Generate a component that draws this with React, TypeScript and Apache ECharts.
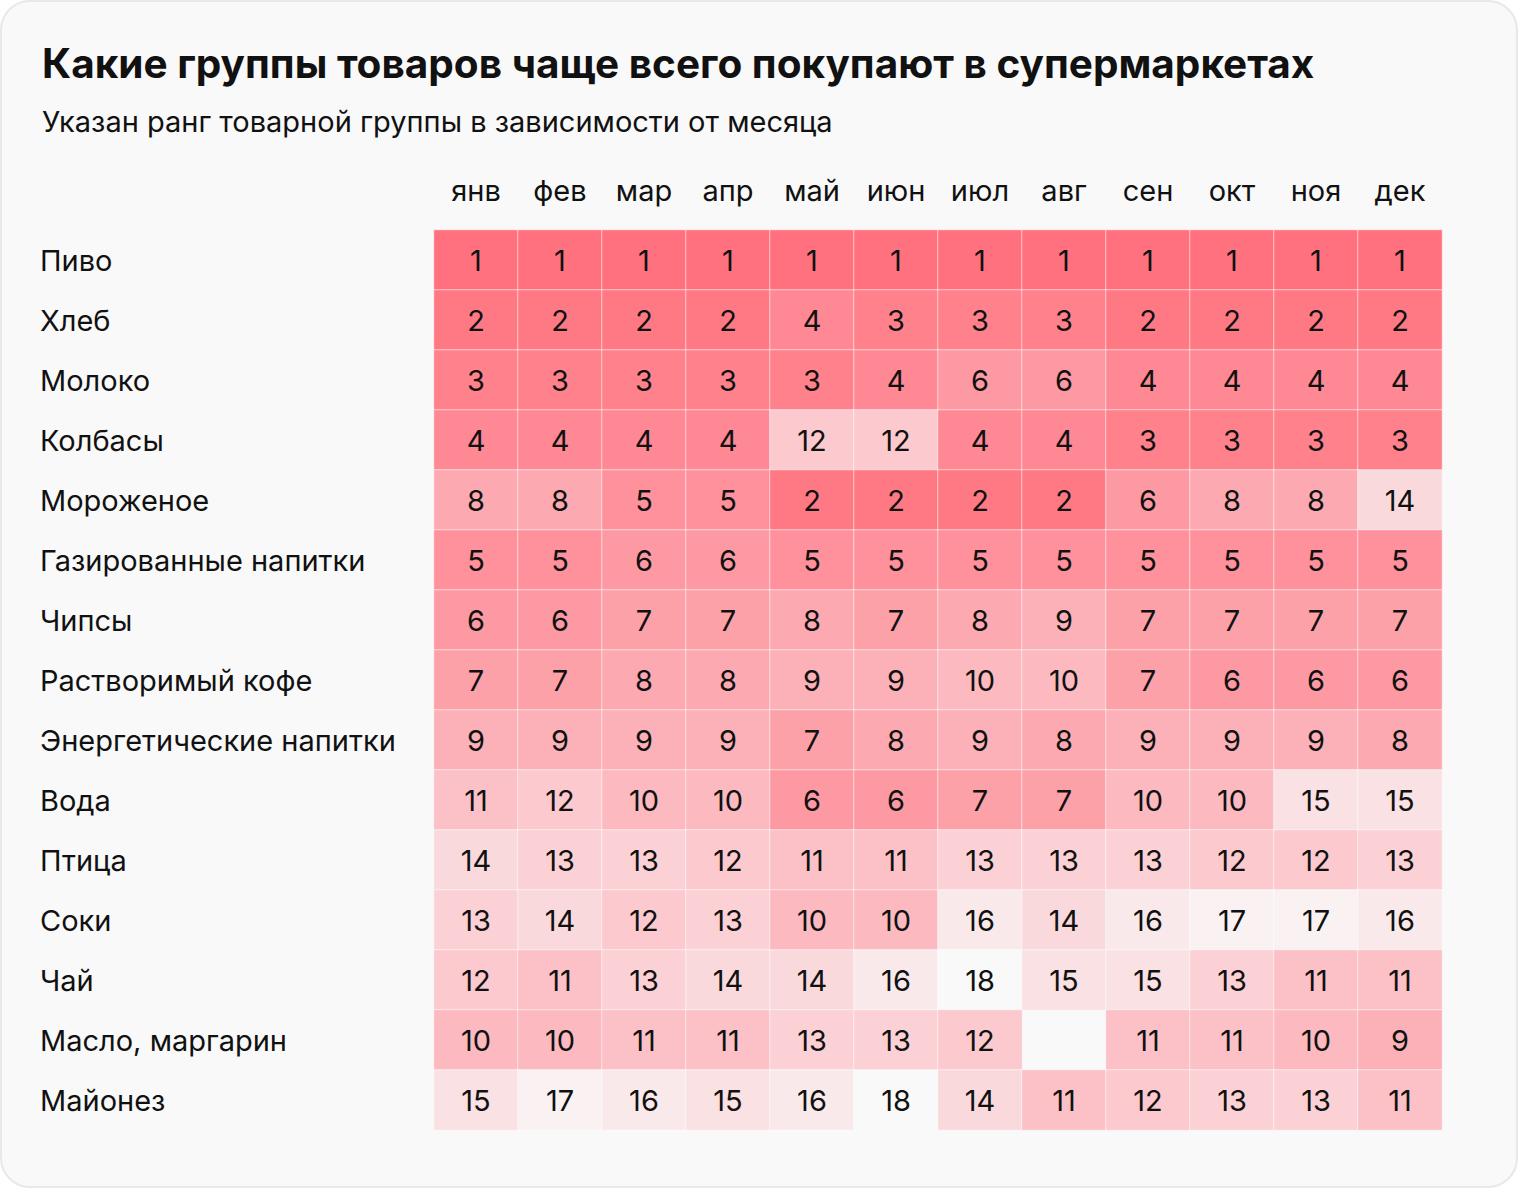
import React, { useEffect, useRef } from "react";
import * as echarts from "echarts";

const months = ["янв", "фев", "мар", "апр", "май", "июн", "июл", "авг", "сен", "окт", "ноя", "дек"];
const categories = [
  "Пиво",
  "Хлеб",
  "Молоко",
  "Колбасы",
  "Мороженое",
  "Газированные напитки",
  "Чипсы",
  "Растворимый кофе",
  "Энергетические напитки",
  "Вода",
  "Птица",
  "Соки",
  "Чай",
  "Масло, маргарин",
  "Майонез",
];
const ranks: (number | null)[][] = [
  [1, 1, 1, 1, 1, 1, 1, 1, 1, 1, 1, 1],
  [2, 2, 2, 2, 4, 3, 3, 3, 2, 2, 2, 2],
  [3, 3, 3, 3, 3, 4, 6, 6, 4, 4, 4, 4],
  [4, 4, 4, 4, 12, 12, 4, 4, 3, 3, 3, 3],
  [8, 8, 5, 5, 2, 2, 2, 2, 6, 8, 8, 14],
  [5, 5, 6, 6, 5, 5, 5, 5, 5, 5, 5, 5],
  [6, 6, 7, 7, 8, 7, 8, 9, 7, 7, 7, 7],
  [7, 7, 8, 8, 9, 9, 10, 10, 7, 6, 6, 6],
  [9, 9, 9, 9, 7, 8, 9, 8, 9, 9, 9, 8],
  [11, 12, 10, 10, 6, 6, 7, 7, 10, 10, 15, 15],
  [14, 13, 13, 12, 11, 11, 13, 13, 13, 12, 12, 13],
  [13, 14, 12, 13, 10, 10, 16, 14, 16, 17, 17, 16],
  [12, 11, 13, 14, 14, 16, 18, 15, 15, 13, 11, 11],
  [10, 10, 11, 11, 13, 13, 12, null, 11, 11, 10, 9],
  [15, 17, 16, 15, 16, 18, 14, 11, 12, 13, 13, 11],
];

const title = "Какие группы товаров чаще всего покупают в супермаркетах";
const subtitle = "Указан ранг товарной группы в зависимости от месяца";

export default function App() {
  const ref = useRef<HTMLDivElement>(null);
  useEffect(() => {
    if (!ref.current) return;
    const chart = echarts.init(ref.current, null, { renderer: "svg" });
    const data: any[] = [];
    ranks.forEach((row, r) => {
      row.forEach((v, c) => {
        if (v !== null) data.push([c, r, v]);
      });
    });
    const font = "Inter, 'Noto Sans', sans-serif";
    chart.setOption({
      animation: false,
      backgroundColor: "transparent",
      textStyle: { fontFamily: font },
      title: [
        {
          text: title,
          left: 37,
          top: 38,
          textStyle: { fontFamily: font, fontSize: 40.5, fontWeight: "bold", color: "#111" },
        },
        {
          text: subtitle,
          left: 37,
          top: 102,
          textStyle: { fontFamily: font, fontSize: 29, fontWeight: "normal", color: "#111" },
        },
      ],
      grid: { left: 434, right: 78, top: 230, bottom: 60 },
      xAxis: {
        type: "category",
        data: months,
        position: "top",
        axisLine: { show: false },
        axisTick: { show: false },
        splitLine: { show: false },
        axisLabel: { fontSize: 29, color: "#111", margin: 25, fontFamily: font },
      },
      yAxis: {
        type: "category",
        data: categories,
        inverse: true,
        axisLine: { show: false },
        axisTick: { show: false },
        splitLine: { show: false },
        axisLabel: { fontSize: 29, color: "#111", margin: 394, align: "left", fontFamily: font },
      },
      visualMap: {
        show: false,
        type: "continuous",
        min: 1,
        max: 18,
        dimension: 2,
        inRange: { color: ["#ff717e", "#f9f9f9"] },
      },
      series: [
        {
          type: "heatmap",
          data,
          itemStyle: { borderColor: "rgba(255,255,255,0.55)", borderWidth: 1 },
          label: {
            show: true,
            fontSize: 29,
            color: "#111",
            fontFamily: font,
            formatter: (p: any) => String(p.value[2]),
          },
          emphasis: { disabled: true },
        },
      ],
    });
    return () => chart.dispose();
  }, []);
  return (
    <div style={{ position: "absolute", left: 0, top: 0, width: 1520, height: 1190 }}>
      <div
        style={{
          position: "absolute",
          left: 0,
          top: 0,
          width: 1518,
          height: 1188,
          boxSizing: "border-box",
          background: "#f9f9f9",
          border: "2px solid #e8e8e8",
          borderRadius: 30,
        }}
      />
      <div ref={ref} style={{ position: "absolute", left: 0, top: 0, width: 1520, height: 1190 }} />
    </div>
  );
}
